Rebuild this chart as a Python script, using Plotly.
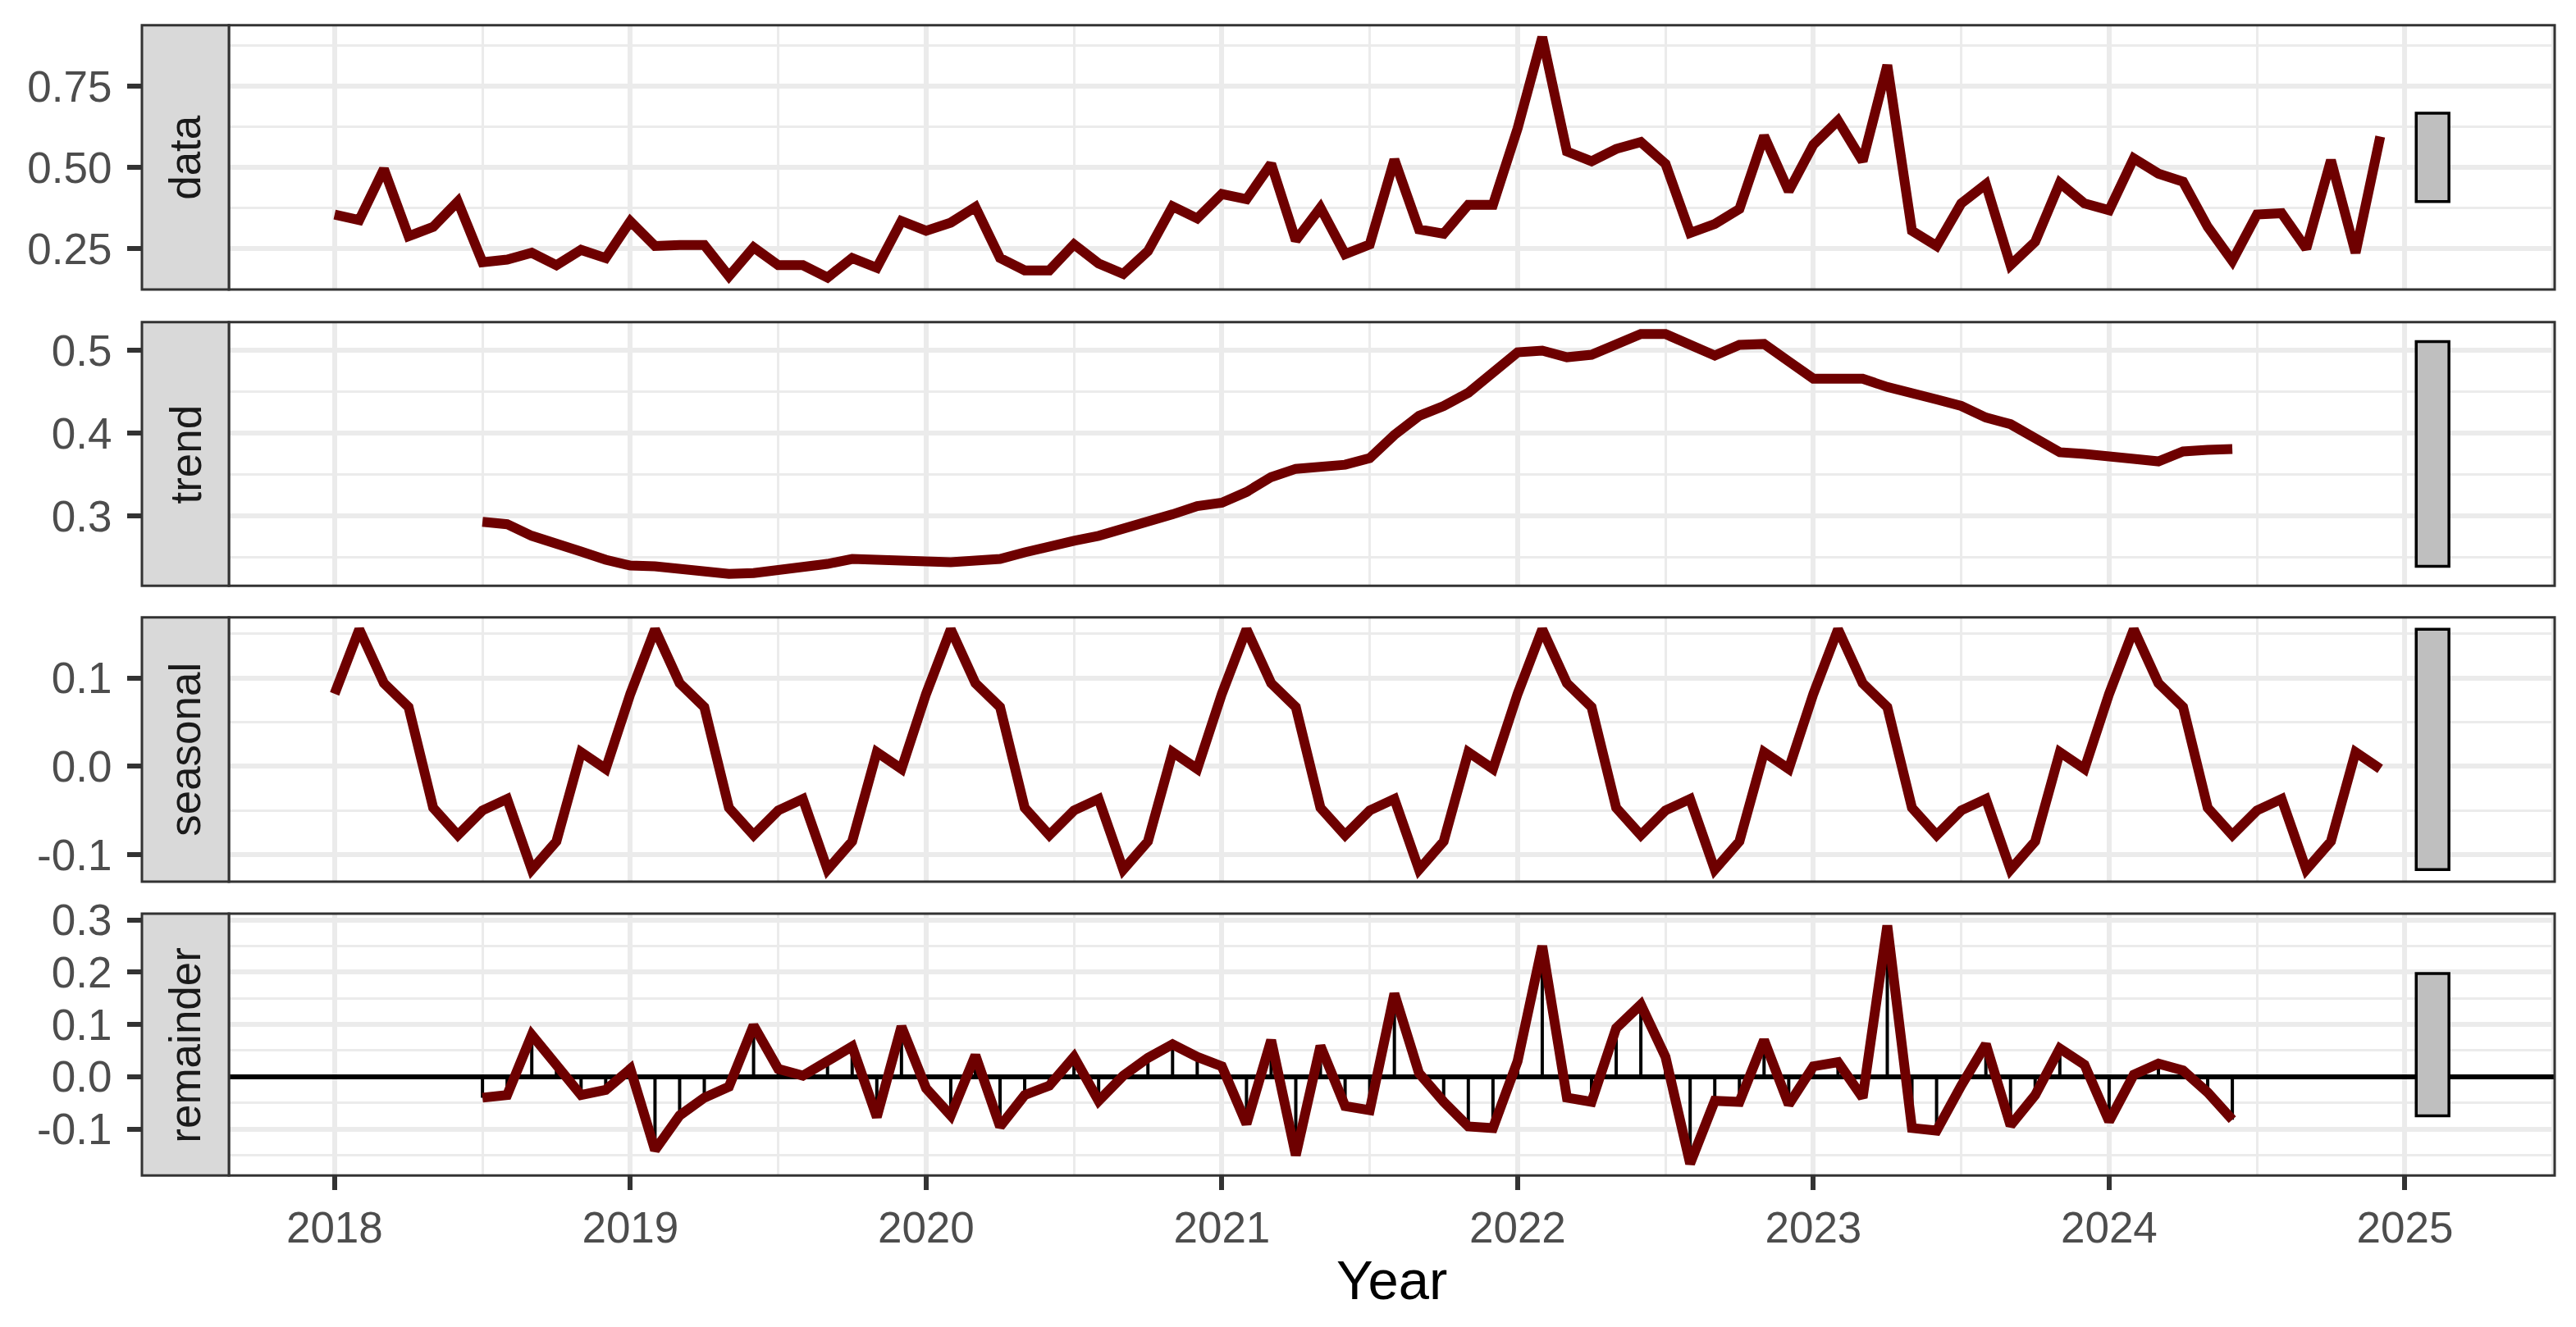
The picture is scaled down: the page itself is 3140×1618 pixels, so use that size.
import plotly.graph_objects as go

# ---------------- data ----------------
start_year = 2018          # first observation: Jan 2018, monthly
trend_offset = 6           # trend / remainder start Jul 2018

data_vals = [
    0.355, 0.338, 0.495, 0.288, 0.317, 0.395, 0.208, 0.216, 0.237, 0.199, 0.246, 0.221,
    0.334, 0.258, 0.261, 0.261, 0.165, 0.254, 0.199, 0.199, 0.161, 0.221, 0.191, 0.335,
    0.305, 0.330, 0.378, 0.221, 0.183, 0.183, 0.263, 0.204, 0.172, 0.242, 0.380, 0.343,
    0.418, 0.402, 0.511, 0.275, 0.376, 0.233, 0.263, 0.524, 0.309, 0.296, 0.385, 0.385,
    0.620, 0.901, 0.549, 0.519, 0.557, 0.578, 0.511, 0.298, 0.326, 0.372, 0.597, 0.427,
    0.570, 0.644, 0.519, 0.815, 0.305, 0.258, 0.389, 0.448, 0.199, 0.271, 0.452, 0.389,
    0.368, 0.528, 0.481, 0.456, 0.317, 0.212, 0.355, 0.359, 0.250, 0.522, 0.237, 0.595,
]

trend_vals = [
    0.293, 0.290, 0.276, 0.265, 0.257, 0.247,
    0.240, 0.239, 0.235, 0.232, 0.230, 0.231, 0.234, 0.237, 0.242, 0.248, 0.247, 0.245,
    0.243, 0.244, 0.246, 0.248, 0.256, 0.264, 0.270, 0.276, 0.284, 0.292, 0.302, 0.312,
    0.316, 0.329, 0.347, 0.357, 0.360, 0.362, 0.370, 0.398, 0.421, 0.433, 0.449, 0.472,
    0.498, 0.500, 0.492, 0.495, 0.508, 0.520, 0.520, 0.506, 0.494, 0.507, 0.508, 0.487,
    0.466, 0.466, 0.466, 0.456, 0.447, 0.441, 0.433, 0.419, 0.411, 0.395, 0.377, 0.375,
    0.373, 0.369, 0.366, 0.378, 0.380, 0.381,
]

seasonal_vals = [
    0.082, 0.155, 0.094, 0.067, -0.047, -0.078, -0.050, -0.037, -0.117, -0.085, 0.016, -0.003,
    0.082, 0.155, 0.094, 0.067, -0.047, -0.078, -0.050, -0.037, -0.117, -0.085, 0.016, -0.003,
    0.082, 0.155, 0.094, 0.067, -0.047, -0.078, -0.050, -0.037, -0.117, -0.085, 0.016, -0.003,
    0.082, 0.155, 0.094, 0.067, -0.047, -0.078, -0.050, -0.037, -0.117, -0.085, 0.016, -0.003,
    0.082, 0.155, 0.094, 0.067, -0.047, -0.078, -0.050, -0.037, -0.117, -0.085, 0.016, -0.003,
    0.082, 0.155, 0.094, 0.067, -0.047, -0.078, -0.050, -0.037, -0.117, -0.085, 0.016, -0.003,
    0.082, 0.155, 0.094, 0.067, -0.047, -0.078, -0.050, -0.037, -0.117, -0.085, 0.016, -0.003,
]

remainder_vals = [
    -0.040, -0.035, 0.080, 0.023, -0.035, -0.025,
    0.015, -0.140, -0.074, -0.040, -0.019, 0.098, 0.015, 0.002, 0.030, 0.058, -0.077, 0.096,
    -0.022, -0.074, 0.041, -0.095, -0.035, -0.017, 0.038, -0.046, 0.002, 0.036, 0.062, 0.038,
    0.020, -0.090, 0.070, -0.150, 0.059, -0.056, -0.064, 0.159, 0.007, -0.048, -0.095, -0.098,
    0.030, 0.250, -0.040, -0.048, 0.093, 0.138, 0.038, -0.166, -0.046, -0.048, 0.070, -0.053,
    0.020, 0.028, -0.040, 0.289, -0.098, -0.103, -0.017, 0.062, -0.093, -0.035, 0.054, 0.023,
    -0.085, 0.004, 0.025, 0.012, -0.030, -0.082,
]

panel_names = ["data", "trend", "seasonal", "remainder"]
x_tick_labels = ["2018", "2019", "2020", "2021", "2022", "2023", "2024", "2025"]
y_tick_vals = [
    [0.25, 0.50, 0.75],
    [0.3, 0.4, 0.5],
    [-0.1, 0.0, 0.1],
    [-0.1, 0.0, 0.1, 0.2, 0.3],
]
y_tick_labels = [
    ["0.25", "0.50", "0.75"],
    ["0.3", "0.4", "0.5"],
    ["-0.1", "0.0", "0.1"],
    ["-0.1", "0.0", "0.1", "0.2", "0.3"],
]
y_minor_dtick = [0.125, 0.05, 0.05, 0.05]
x_axis_title = "Year"

# ---------------- styling / layout constants ----------------
W, H = 3140, 1618          # window size
OFF = 8                    # default <body> margin of the written page
FW, FH = W - OFF, H - OFF  # figure size
FONT = "Liberation Sans, Arial, sans-serif"
LINE_COLOR = "#6E0000"
GRID = "#EBEBEB"
BORDER = "#333333"
STRIP_FILL = "#D9D9D9"
BAR_FILL = "#BFBFBF"
PANEL_L, PANEL_R, STRIP_L = 279, 3114, 173
PANELS_PX = [(30.7, 353.0), (392.7, 714.3), (752.7, 1075.0), (1114.0, 1433.3)]
BAR_OFFSET_FRAC = 0.0256   # bar centre beyond last time, as fraction of time span
BAR_WIDTH_FRAC = 0.016     # bar width as fraction of time span
EXPAND = 0.05


def fx(px):
    return (px - OFF) / FW


def fy(py):
    return 1 - (py - OFF) / FH


# ---------------- derived ----------------
n = len(data_vals)
t_all = [start_year + i / 12 for i in range(n)]
t_trend = [start_year + (trend_offset + i) / 12 for i in range(len(trend_vals))]

series = [
    (t_all, data_vals),
    (t_trend, trend_vals),
    (t_all, seasonal_vals),
    (t_trend, remainder_vals),
]

span = t_all[-1] - t_all[0]
bar_mid_x = t_all[-1] + BAR_OFFSET_FRAC * span
bar_half_w = BAR_WIDTH_FRAC * span / 2
bar_len = min(max(v) - min(v) for _, v in series)

x_lo = t_all[0]
x_hi = bar_mid_x + bar_half_w
x_pad = (x_hi - x_lo) * EXPAND
x_range = [x_lo - x_pad, x_hi + x_pad]

fig = go.Figure()
shapes = []
annotations = []
layout = {}

for k, ((tx, vals), name) in enumerate(zip(series, panel_names), start=1):
    xa = "x" if k == 1 else f"x{k}"
    ya = "y" if k == 1 else f"y{k}"
    mid = (max(vals) + min(vals)) / 2
    b_lo, b_hi = mid - bar_len / 2, mid + bar_len / 2
    lo = min(min(vals), b_lo)
    hi = max(max(vals), b_hi)
    pad = (hi - lo) * EXPAND
    y_range = [lo - pad, hi + pad]

    if name == "remainder":
        sx, sy = [], []
        for t, v in zip(tx, vals):
            sx += [t, t, None]
            sy += [0, v, None]
        fig.add_trace(go.Scatter(x=sx, y=sy, mode="lines",
                                 line=dict(color="black", width=4),
                                 xaxis=xa, yaxis=ya, hoverinfo="skip"))
        fig.add_trace(go.Scatter(x=x_range, y=[0, 0], mode="lines",
                                 line=dict(color="black", width=6),
                                 xaxis=xa, yaxis=ya, hoverinfo="skip"))

    fig.add_trace(go.Scatter(x=tx, y=vals, mode="lines",
                             line=dict(color=LINE_COLOR, width=12),
                             xaxis=xa, yaxis=ya, name=name))

    top, bot = PANELS_PX[k - 1]
    is_bottom = k == len(series)
    layout["xaxis" if k == 1 else f"xaxis{k}"] = dict(
        domain=[fx(PANEL_L), fx(PANEL_R)], anchor=ya, range=x_range,
        tickmode="array", tickvals=[int(s) for s in x_tick_labels], ticktext=x_tick_labels,
        showticklabels=is_bottom, ticks="outside" if is_bottom else "",
        ticklen=17, tickwidth=5.5, tickcolor=BORDER,
        tickfont=dict(size=53, color="#4D4D4D", family=FONT),
        showgrid=True, gridcolor=GRID, gridwidth=5.5,
        minor=dict(dtick=0.5, tick0=2017.5, showgrid=True, gridcolor=GRID, gridwidth=3),
        zeroline=False, showline=False, automargin=False, fixedrange=True,
    )
    layout["yaxis" if k == 1 else f"yaxis{k}"] = dict(
        domain=[fy(bot), fy(top)], anchor="free", position=fx(STRIP_L), side="left",
        range=y_range, tickmode="array", tickvals=y_tick_vals[k - 1],
        ticktext=y_tick_labels[k - 1],
        ticks="outside", ticklen=18, tickwidth=5.5, tickcolor=BORDER,
        ticklabelstandoff=8,
        tickfont=dict(size=53, color="#4D4D4D", family=FONT),
        showgrid=True, gridcolor=GRID, gridwidth=5.5,
        minor=dict(dtick=y_minor_dtick[k - 1], tick0=0, showgrid=True,
                   gridcolor=GRID, gridwidth=3),
        zeroline=False, showline=False, automargin=False, fixedrange=True,
    )

    # range bar
    shapes.append(dict(type="rect", xref=xa, yref=ya,
                       x0=bar_mid_x - bar_half_w, x1=bar_mid_x + bar_half_w,
                       y0=b_lo, y1=b_hi, fillcolor=BAR_FILL,
                       line=dict(color="black", width=3.5), layer="above"))
    # panel border
    shapes.append(dict(type="rect", xref="paper", yref="paper",
                       x0=fx(PANEL_L), x1=fx(PANEL_R), y0=fy(bot), y1=fy(top),
                       line=dict(color=BORDER, width=3), layer="above"))
    # strip
    shapes.append(dict(type="rect", xref="paper", yref="paper",
                       x0=fx(STRIP_L), x1=fx(PANEL_L), y0=fy(bot), y1=fy(top),
                       fillcolor=STRIP_FILL, line=dict(color=BORDER, width=3),
                       layer="above"))
    annotations.append(dict(text=name, xref="paper", yref="paper",
                            x=fx((STRIP_L + PANEL_L) / 2), y=fy((top + bot) / 2),
                            xanchor="center", yanchor="middle", textangle=-90,
                            showarrow=False,
                            font=dict(size=53, color="#1A1A1A", family=FONT)))

annotations.append(dict(text=x_axis_title, xref="paper", yref="paper",
                        x=fx((PANEL_L + PANEL_R) / 2), y=fy(1560),
                        xanchor="center", yanchor="middle", showarrow=False,
                        font=dict(size=67, color="black", family=FONT)))

fig.update_layout(
    width=FW, height=FH,
    margin=dict(l=0, r=0, t=0, b=0),
    paper_bgcolor="white", plot_bgcolor="white",
    showlegend=False, hovermode=False,
    font=dict(family=FONT),
    shapes=shapes, annotations=annotations,
    **layout,
)

fig.write_html("out.html")
